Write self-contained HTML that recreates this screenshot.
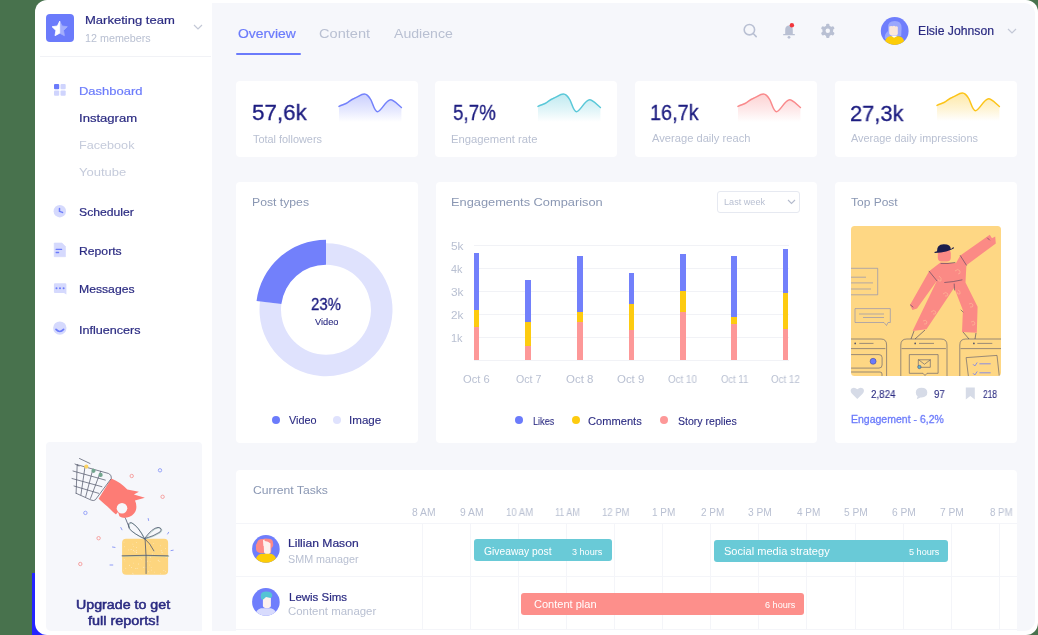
<!DOCTYPE html>
<html><head><meta charset="utf-8">
<style>
*{margin:0;padding:0;box-sizing:border-box}
html,body{width:1038px;height:635px;overflow:hidden;background:#48724d;font-family:"Liberation Sans",sans-serif}
.a{position:absolute;white-space:nowrap}
div[id^=t]{will-change:transform}
#strip{position:absolute;left:32px;top:573px;width:20px;height:62px;background:#2424ff}
#wrap{position:absolute;left:35px;top:0;width:1003px;height:635px;background:#fff;border-radius:12px;overflow:hidden}
#main{position:absolute;left:212px;top:3px;width:823px;height:627.5px;background:#f6f7fb;border-radius:0 11px 11px 0}
.card{position:absolute;background:#fff;border-radius:4px}
.t-dark{color:#2b2b82}
.t-light{color:#b4bbcd}
</style></head><body>
<div id="strip"></div>
<div id="wrap"></div>
<div id="main"></div>

<!-- SIDEBAR -->
<div class="a" style="left:46px;top:14px;width:28px;height:28px;background:#6b7bfb;border-radius:4px">
  <svg width="28" height="28" viewBox="0 0 28 28" style="position:absolute;left:0;top:0">
    <polygon points="13.70,7.20 16.05,11.96 21.31,12.73 17.50,16.44 18.40,21.67 13.70,19.20" fill="#a3adfd" stroke="#a3adfd" stroke-width="0.8" stroke-linejoin="round"/>
    <polygon points="13.70,19.20 9.00,21.67 9.90,16.44 6.09,12.73 11.35,11.96 13.70,7.20" fill="#fff" stroke="#fff" stroke-width="0.8" stroke-linejoin="round"/>
  </svg>
</div>
<svg class="a" style="left:193px;top:24px" width="10" height="6" viewBox="0 0 10 6"><path d="M1 1 L5 5 L9 1" stroke="#c3c8d6" stroke-width="1.2" fill="none"/></svg>
<div class="a" style="left:40px;top:56px;width:171px;height:1px;background:#f1f2f6"></div>


<!-- nav -->
<svg class="a" style="left:54px;top:84px" width="12" height="12" viewBox="0 0 12 12">
 <rect x="0" y="0" width="5.2" height="5.2" rx="1" fill="#6b7bfb"/>
 <rect x="6.5" y="0" width="5.2" height="5.2" rx="1" fill="#cfd4fd"/>
 <rect x="0" y="6.5" width="5.2" height="5.2" rx="1" fill="#cfd4fd"/>
 <rect x="6.5" y="6.5" width="5.2" height="5.2" rx="1" fill="#cfd4fd"/>
</svg>

<svg class="a" style="left:50px;top:201px" width="20" height="20" viewBox="0 0 20 20">
 <circle cx="9.8" cy="10.2" r="6.2" fill="#d5d9fd"/>
 <path d="M9.5 7.4 V10.4 L12.5 11.4" stroke="#6b7bfb" stroke-width="1.5" fill="none" stroke-linecap="round" stroke-linejoin="round"/>
</svg>

<svg class="a" style="left:50px;top:240px" width="20" height="20" viewBox="0 0 20 20">
 <path d="M4.2 3 H12 L15.5 6.5 V16.7 H4.2 Z" fill="#d5d9fd" stroke="#d5d9fd" stroke-width="0.6" stroke-linejoin="round"/>
 <path d="M6.2 9.4 H11.6 M6.2 12.5 H8.6" stroke="#6b7bfb" stroke-width="1.3" stroke-linecap="round"/>
</svg>

<svg class="a" style="left:50px;top:280px" width="20" height="20" viewBox="0 0 20 20">
 <path d="M5 3.2 H15 Q16.4 3.2 16.4 4.6 V14.5 L14 13.1 H5 Q3.9 13.1 3.9 12 V4.6 Q3.9 3.2 5 3.2 Z" fill="#d5d9fd"/>
 <circle cx="6.5" cy="8.2" r="1" fill="#6b7bfb"/><circle cx="10" cy="8.2" r="1" fill="#6b7bfb"/><circle cx="13.6" cy="8.2" r="1" fill="#6b7bfb"/>
</svg>

<svg class="a" style="left:50px;top:318px" width="20" height="20" viewBox="0 0 20 20">
 <circle cx="9.8" cy="10.1" r="6.7" fill="#d5d9fd"/>
 <path d="M6 11.4 Q9.8 15.6 13.6 11.4" stroke="#6b7bfb" stroke-width="1.7" fill="none" stroke-linecap="round"/>
</svg>

<!-- upgrade -->
<div class="a" style="left:46px;top:442px;width:155.5px;height:188.5px;background:#f6f7fb;border-radius:4px 4px 0 5px"></div>
<svg class="a" style="left:60px;top:450px" width="125" height="135" viewBox="0 0 125 135">
 <g fill="none" stroke-width="0.9">
  <circle cx="71.7" cy="26" r="1.7" stroke="#f59a98"/>
  <circle cx="100" cy="20.3" r="1.7" stroke="#8f9cf7"/>
  <circle cx="102.6" cy="46.8" r="1.7" stroke="#f59a98"/>
  <circle cx="25.4" cy="62.9" r="1.7" stroke="#8f9cf7"/>
  <circle cx="38.6" cy="88.2" r="1.7" stroke="#f59a98"/>
  <circle cx="20.3" cy="114" r="1.7" stroke="#f59a98"/>
 </g>
 <g stroke="#8f9cf7" stroke-width="1" stroke-linecap="round">
  <path d="M88.2 68.5 L88.6 70.5"/><path d="M60.8 77.5 L62 79.8"/><path d="M52.5 97 L55 97.4"/><path d="M50 115 L52.8 115"/><path d="M107.6 84 L108.6 82.3"/><path d="M111 100.6 L113.2 100.2"/>
 </g>
 <rect x="62.1" y="88.7" width="46" height="36" rx="4" fill="#fdd57e"/>
 <g><circle cx="73.5" cy="113.1" r="0.45" fill="#fff" opacity="0.58"/><circle cx="89.6" cy="115.0" r="0.45" fill="#fff" opacity="0.43"/><circle cx="63.6" cy="120.1" r="0.45" fill="#fff" opacity="0.53"/><circle cx="73.3" cy="123.9" r="0.45" fill="#fff" opacity="0.64"/><circle cx="99.8" cy="111.4" r="0.45" fill="#fff" opacity="0.72"/><circle cx="69.6" cy="115.2" r="0.45" fill="#fff" opacity="0.83"/><circle cx="86.0" cy="117.8" r="0.45" fill="#fff" opacity="0.74"/><circle cx="65.8" cy="118.2" r="0.45" fill="#fff" opacity="0.70"/><circle cx="76.3" cy="100.7" r="0.45" fill="#fff" opacity="0.83"/><circle cx="83.8" cy="117.3" r="0.45" fill="#fff" opacity="0.84"/><circle cx="94.4" cy="122.1" r="0.45" fill="#fff" opacity="0.60"/><circle cx="98.2" cy="110.7" r="0.45" fill="#fff" opacity="0.87"/><circle cx="101.7" cy="102.3" r="0.45" fill="#fff" opacity="0.47"/><circle cx="72.5" cy="123.2" r="0.45" fill="#fff" opacity="0.62"/><circle cx="90.6" cy="107.2" r="0.45" fill="#fff" opacity="0.65"/><circle cx="80.0" cy="108.4" r="0.45" fill="#fff" opacity="0.69"/><circle cx="88.7" cy="121.7" r="0.45" fill="#fff" opacity="0.74"/><circle cx="103.9" cy="120.6" r="0.45" fill="#fff" opacity="0.90"/><circle cx="92.5" cy="103.9" r="0.45" fill="#fff" opacity="0.83"/><circle cx="105.4" cy="121.7" r="0.45" fill="#fff" opacity="0.68"/><circle cx="94.4" cy="105.1" r="0.45" fill="#fff" opacity="0.82"/><circle cx="88.2" cy="106.8" r="0.45" fill="#fff" opacity="0.43"/><circle cx="100.6" cy="123.8" r="0.45" fill="#fff" opacity="0.44"/><circle cx="98.2" cy="109.9" r="0.45" fill="#fff" opacity="0.48"/><circle cx="75.9" cy="118.5" r="0.45" fill="#fff" opacity="0.84"/><circle cx="64.9" cy="110.9" r="0.45" fill="#fff" opacity="0.42"/><circle cx="94.6" cy="101.3" r="0.45" fill="#fff" opacity="0.84"/><circle cx="106.1" cy="107.2" r="0.45" fill="#fff" opacity="0.90"/><circle cx="76.6" cy="92.6" r="0.45" fill="#fff" opacity="0.70"/><circle cx="64.4" cy="96.7" r="0.45" fill="#fff" opacity="0.60"/><circle cx="89.9" cy="95.3" r="0.45" fill="#fff" opacity="0.42"/><circle cx="101.2" cy="100.7" r="0.45" fill="#fff" opacity="0.88"/><circle cx="102.5" cy="102.8" r="0.45" fill="#fff" opacity="0.63"/><circle cx="85.9" cy="111.9" r="0.45" fill="#fff" opacity="0.70"/><circle cx="87.6" cy="111.1" r="0.45" fill="#fff" opacity="0.87"/><circle cx="85.3" cy="104.7" r="0.45" fill="#fff" opacity="0.76"/><circle cx="73.5" cy="100.2" r="0.45" fill="#fff" opacity="0.89"/><circle cx="85.9" cy="108.6" r="0.45" fill="#fff" opacity="0.41"/><circle cx="81.3" cy="109.7" r="0.45" fill="#fff" opacity="0.41"/><circle cx="90.1" cy="111.5" r="0.45" fill="#fff" opacity="0.43"/><circle cx="90.6" cy="105.9" r="0.45" fill="#fff" opacity="0.74"/><circle cx="78.5" cy="114.0" r="0.45" fill="#fff" opacity="0.77"/><circle cx="64.0" cy="92.1" r="0.45" fill="#fff" opacity="0.74"/><circle cx="105.4" cy="98.5" r="0.45" fill="#fff" opacity="0.63"/><circle cx="89.1" cy="100.9" r="0.45" fill="#fff" opacity="0.58"/><circle cx="76.8" cy="102.6" r="0.45" fill="#fff" opacity="0.70"/><circle cx="76.2" cy="102.8" r="0.45" fill="#fff" opacity="0.79"/><circle cx="64.2" cy="109.4" r="0.45" fill="#fff" opacity="0.77"/><circle cx="76.6" cy="97.6" r="0.45" fill="#fff" opacity="0.80"/><circle cx="73.5" cy="96.4" r="0.45" fill="#fff" opacity="0.62"/><circle cx="93.7" cy="93.5" r="0.45" fill="#fff" opacity="0.56"/><circle cx="77.7" cy="118.3" r="0.45" fill="#fff" opacity="0.62"/><circle cx="100.6" cy="95.8" r="0.45" fill="#fff" opacity="0.57"/><circle cx="91.6" cy="120.1" r="0.45" fill="#fff" opacity="0.63"/><circle cx="72.9" cy="94.1" r="0.45" fill="#fff" opacity="0.66"/><circle cx="71.4" cy="117.4" r="0.45" fill="#fff" opacity="0.82"/><circle cx="71.1" cy="99.5" r="0.45" fill="#fff" opacity="0.80"/><circle cx="91.2" cy="117.4" r="0.45" fill="#fff" opacity="0.57"/><circle cx="68.7" cy="99.9" r="0.45" fill="#fff" opacity="0.80"/><circle cx="74.9" cy="101.8" r="0.45" fill="#fff" opacity="0.61"/></g>
 <g stroke="#9cc2b4" stroke-width="0.7" fill="none" stroke-linecap="round" transform="translate(0.7 0.5)">
  <path d="M62.1 105.8 Q85 104.8 108.1 105.8"/>
  <path d="M84.5 88.7 Q78 76 71.5 72.7 Q67 72 69.2 78.6 Q74 84 84.5 88.7"/>
  <path d="M84.5 88.7 Q92 78 98 77.4 Q103 78 100 82 Q94 86 84.5 88.7"/>
 </g>
 <g stroke="#4f5870" stroke-width="0.8" fill="none" stroke-linecap="round">
  <path d="M85.1 89 Q86.5 106 86.1 123.5"/>
  <path d="M62.1 105.8 Q85 104.8 108.1 105.8"/>
  <path d="M84.5 88.7 Q78 76 71.5 72.7 Q67 72 69.2 78.6 Q74 84 84.5 88.7"/>
  <path d="M84.5 88.7 Q92 78 98 77.4 Q103 78 100 82 Q94 86 84.5 88.7"/>
  <path d="M85 89 Q90 93 94 101"/>
  <path d="M61.5 61.5 Q66 68 69.2 77.4"/>
 </g>
 <path d="M51.3 28.4 C58 31 63 35 67.3 39.5 L78.9 41.7 L73.9 44.4 L84.9 47.7 L75 50.5 C77 55 77 60 74 63.5 C71 67 66 68.5 62 67.6 C58 66.5 54 63 50 59 C47 56 42 52 38.6 48.8 Z" fill="#fd7c75"/>
 <circle cx="62" cy="58.3" r="5.3" fill="#f6f7fb"/>
 <path d="M58 62 L53 68 L60 68 Z" fill="#f6f7fb"/>
 <g stroke="#555b6e" stroke-width="0.75" fill="none" stroke-linecap="round">
  <path d="M17.2 14.7 L48.6 23.5 Q52 25 51.3 28.4 L35.3 49.9 Q33.5 51.2 31 50 L16.1 43.3"/>
  <path d="M25 16.9 L20.9 45 M32.9 19.1 L25.7 46.8 M40.7 21.3 L30.5 48.4 M17.2 14.7 L16.1 43.3"/>
  <path d="M13 21 L45.3 30.1 M12 28.5 L41.9 36.7 M14 36 L38.6 43.3"/>
  <path d="M19.5 8.5 L30 13.5 M15 14 L19 16"/>
 </g>
 <circle cx="26.3" cy="16.6" r="2.1" fill="#fcd262"/><circle cx="33.5" cy="20.8" r="2.1" fill="#72a58e"/><circle cx="40.6" cy="24.9" r="2.1" fill="#72a58e"/>
</svg>


<!-- TOPBAR -->
<div class="a" style="left:235.5px;top:53px;width:65px;height:2px;background:#6b7bfb;border-radius:1px"></div>

<svg class="a" style="left:740px;top:20px" width="20" height="20" viewBox="0 0 20 20">
 <circle cx="9.4" cy="9.7" r="5.2" stroke="#b9c0d3" stroke-width="1.6" fill="none"/>
 <path d="M13.2 13.5 L16.2 16.6" stroke="#b9c0d3" stroke-width="1.6" stroke-linecap="round"/>
</svg>
<svg class="a" style="left:779px;top:20px" width="20" height="20" viewBox="0 0 20 20">
 <path d="M10 5.5 Q13.8 5.5 13.8 10 V14 H15.8 V15.3 H4.2 V14 H6.2 V10 Q6.2 5.5 10 5.5 Z" fill="#b9c0d3"/>
 <circle cx="10" cy="17.3" r="1.4" fill="#b9c0d3"/>
 <circle cx="12.9" cy="5.2" r="2.2" fill="#f2353b"/>
</svg>
<svg class="a" style="left:818px;top:21px" width="20" height="20" viewBox="0 0 20 20">
 <g fill="#b9c0d3">
  <circle cx="9.8" cy="9.8" r="5.4"/>
  <rect x="8.1" y="2.7" width="3.4" height="14.2" rx="1.2"/>
  <rect x="8.1" y="2.7" width="3.4" height="14.2" rx="1.2" transform="rotate(60 9.8 9.8)"/>
  <rect x="8.1" y="2.7" width="3.4" height="14.2" rx="1.2" transform="rotate(120 9.8 9.8)"/>
 </g>
 <circle cx="9.8" cy="9.8" r="2.2" fill="#f6f7fb"/>
</svg>

<svg class="a" style="left:880px;top:16px" width="30" height="30" viewBox="0 0 30 30">
 <defs><clipPath id="av1"><circle cx="14.7" cy="15" r="13.9"/></clipPath></defs>
 <circle cx="14.7" cy="15" r="13.9" fill="#6f7efc"/>
 <g clip-path="url(#av1)">
  <path d="M8 12 Q7.5 5 14.8 5 Q21.8 5 21.6 12 L21.2 20 H15 L9.5 22 L5 23 Q4 18 8 15 Z" fill="#9ba7fd"/>
  <path d="M9.2 10.5 Q11 9.5 12.5 10.3 Q14 9 15.5 10.5 Q17 10 17.8 11 V17.5 Q17.8 19.6 14.5 19.6 Q9.2 19.6 9.2 17 Z" fill="#fbe7dc"/>
  <path d="M4 31 Q4.5 21 10 20.2 L19 20.2 Q25 21 25 31 Z" fill="#fdcd08"/>
  <path d="M11.2 19.8 L14 21.8 L17.8 19.8 Z" fill="#ffffff"/>
 </g>
</svg>
<svg class="a" style="left:1007px;top:28px" width="10" height="6" viewBox="0 0 10 6"><path d="M1 1 L5 5 L9 1" stroke="#c3c8d6" stroke-width="1.2" fill="none"/></svg>

<!-- STAT CARDS -->
<div class="card" style="left:235.5px;top:80.5px;width:182px;height:76px"></div>
<div class="card" style="left:435px;top:80.5px;width:182px;height:76px"></div>
<div class="card" style="left:635px;top:80.5px;width:182px;height:76px"></div>
<div class="card" style="left:834.5px;top:80.5px;width:182px;height:76px"></div>



<svg class="a" style="left:337.7px;top:92.3px" width="66" height="30" viewBox="-1 -2 66 30">
 <defs><linearGradient id="g1" x1="0" y1="0" x2="0" y2="1"><stop offset="0" stop-color="#7482fb" stop-opacity="0.38"/><stop offset="0.6" stop-color="#7482fb" stop-opacity="0.17"/><stop offset="1" stop-color="#7482fb" stop-opacity="0"/></linearGradient></defs>
 <path d="M0,12.4 C3,11 5,10.5 7,9.5 C10,8 12,5.5 15,4.5 C19,3 22,0 25.4,0 C28,0 30,2.5 32,6 C34,10 35.5,17.8 38.5,17.8 C42,17.8 47,5.8 51.6,5.8 C55,5.8 59,11 62.4,13.5 V28 H0 Z" fill="url(#g1)"/>
 <path d="M0,12.4 C3,11 5,10.5 7,9.5 C10,8 12,5.5 15,4.5 C19,3 22,0 25.4,0 C28,0 30,2.5 32,6 C34,10 35.5,17.8 38.5,17.8 C42,17.8 47,5.8 51.6,5.8 C55,5.8 59,11 62.4,13.5" stroke="#7482fb" stroke-width="1.5" fill="none" stroke-linecap="round"/>
</svg>
<svg class="a" style="left:536.9px;top:92.3px" width="66" height="30" viewBox="-1 -2 66 30">
 <defs><linearGradient id="g2" x1="0" y1="0" x2="0" y2="1"><stop offset="0" stop-color="#5ac8d8" stop-opacity="0.38"/><stop offset="0.6" stop-color="#5ac8d8" stop-opacity="0.17"/><stop offset="1" stop-color="#5ac8d8" stop-opacity="0"/></linearGradient></defs>
 <path d="M0,12.4 C3,11 5,10.5 7,9.5 C10,8 12,5.5 15,4.5 C19,3 22,0 25.4,0 C28,0 30,2.5 32,6 C34,10 35.5,17.8 38.5,17.8 C42,17.8 47,5.8 51.6,5.8 C55,5.8 59,11 62.4,13.5 V28 H0 Z" fill="url(#g2)"/>
 <path d="M0,12.4 C3,11 5,10.5 7,9.5 C10,8 12,5.5 15,4.5 C19,3 22,0 25.4,0 C28,0 30,2.5 32,6 C34,10 35.5,17.8 38.5,17.8 C42,17.8 47,5.8 51.6,5.8 C55,5.8 59,11 62.4,13.5" stroke="#5ac8d8" stroke-width="1.5" fill="none" stroke-linecap="round"/>
</svg>
<svg class="a" style="left:736.5px;top:92.3px" width="66" height="30" viewBox="-1 -2 66 30">
 <defs><linearGradient id="g3" x1="0" y1="0" x2="0" y2="1"><stop offset="0" stop-color="#f98a8c" stop-opacity="0.38"/><stop offset="0.6" stop-color="#f98a8c" stop-opacity="0.17"/><stop offset="1" stop-color="#f98a8c" stop-opacity="0"/></linearGradient></defs>
 <path d="M0,12.4 C3,11 5,10.5 7,9.5 C10,8 12,5.5 15,4.5 C19,3 22,0 25.4,0 C28,0 30,2.5 32,6 C34,10 35.5,17.8 38.5,17.8 C42,17.8 47,5.8 51.6,5.8 C55,5.8 59,11 62.4,13.5 V28 H0 Z" fill="url(#g3)"/>
 <path d="M0,12.4 C3,11 5,10.5 7,9.5 C10,8 12,5.5 15,4.5 C19,3 22,0 25.4,0 C28,0 30,2.5 32,6 C34,10 35.5,17.8 38.5,17.8 C42,17.8 47,5.8 51.6,5.8 C55,5.8 59,11 62.4,13.5" stroke="#f98a8c" stroke-width="1.5" fill="none" stroke-linecap="round"/>
</svg>
<svg class="a" style="left:935.8px;top:90.8px" width="66" height="30" viewBox="-1 -2 66 30">
 <defs><linearGradient id="g4" x1="0" y1="0" x2="0" y2="1"><stop offset="0" stop-color="#fcc419" stop-opacity="0.38"/><stop offset="0.6" stop-color="#fcc419" stop-opacity="0.17"/><stop offset="1" stop-color="#fcc419" stop-opacity="0"/></linearGradient></defs>
 <path d="M0,12.4 C3,11 5,10.5 7,9.5 C10,8 12,5.5 15,4.5 C19,3 22,0 25.4,0 C28,0 30,2.5 32,6 C34,10 35.5,17.8 38.5,17.8 C42,17.8 47,5.8 51.6,5.8 C55,5.8 59,11 62.4,13.5 V28 H0 Z" fill="url(#g4)"/>
 <path d="M0,12.4 C3,11 5,10.5 7,9.5 C10,8 12,5.5 15,4.5 C19,3 22,0 25.4,0 C28,0 30,2.5 32,6 C34,10 35.5,17.8 38.5,17.8 C42,17.8 47,5.8 51.6,5.8 C55,5.8 59,11 62.4,13.5" stroke="#fcc419" stroke-width="1.5" fill="none" stroke-linecap="round"/>
</svg>


<!-- MIDDLE ROW -->
<div class="card" style="left:235.5px;top:182.3px;width:182px;height:260.5px"></div>
<div class="card" style="left:435.5px;top:182.3px;width:381.5px;height:260.5px"></div>
<div class="card" style="left:834.5px;top:182.3px;width:182px;height:260.5px"></div>

<svg class="a" style="left:0;top:0" width="1038" height="635" viewBox="0 0 1038 635">
 <path d="M326.00,243.20 A66.5,66.5 0 1 1 260.02,301.37 L281.35,304.06 A45,45 0 1 0 326.00,264.70 Z" fill="#dfe2fd"/>
 <path d="M256.55,300.93 A70,70 0 0 1 326.00,239.70 L326.00,264.70 A45,45 0 0 0 281.35,304.06 Z" fill="#7280fb"/>
</svg>
<div class="a" style="left:272px;top:416px;width:8px;height:8px;border-radius:50%;background:#6b7bfb"></div>
<div class="a" style="left:333px;top:416px;width:8px;height:8px;border-radius:50%;background:#dfe2fd"></div>

<div class="a" style="left:717.3px;top:190.6px;width:83px;height:22px;border:1px solid #e6e9f1;border-radius:3px"></div>
<svg class="a" style="left:787px;top:199px" width="9" height="6" viewBox="0 0 9 6"><path d="M1 1 L4.5 4.5 L8 1" stroke="#b4bbcd" stroke-width="1.1" fill="none"/></svg>
<div class="a" style="left:473.7px;top:245px;width:315.3px;height:1px;background:#f1f2f6"></div><div class="a" style="left:473.7px;top:268px;width:315.3px;height:1px;background:#f1f2f6"></div><div class="a" style="left:473.7px;top:291px;width:315.3px;height:1px;background:#f1f2f6"></div><div class="a" style="left:473.7px;top:314px;width:315.3px;height:1px;background:#f1f2f6"></div><div class="a" style="left:473.7px;top:337px;width:315.3px;height:1px;background:#f1f2f6"></div><div class="a" style="left:473.7px;top:360px;width:315.3px;height:1px;background:#f1f2f6"></div><div class="a" style="left:473.7px;top:253px;width:5.8px;height:57.19999999999999px;background:#7280fb"></div><div class="a" style="left:473.7px;top:310.2px;width:5.8px;height:16.80000000000001px;background:#fdcb10"></div><div class="a" style="left:473.7px;top:327px;width:5.8px;height:33px;background:#fd9898"></div><div class="a" style="left:525.3px;top:279.8px;width:5.8px;height:42.5px;background:#7280fb"></div><div class="a" style="left:525.3px;top:322.3px;width:5.8px;height:24.099999999999966px;background:#fdcb10"></div><div class="a" style="left:525.3px;top:346.4px;width:5.8px;height:13.600000000000023px;background:#fd9898"></div><div class="a" style="left:577px;top:255.6px;width:5.8px;height:56.00000000000003px;background:#7280fb"></div><div class="a" style="left:577px;top:311.6px;width:5.8px;height:10.299999999999955px;background:#fdcb10"></div><div class="a" style="left:577px;top:321.9px;width:5.8px;height:38.10000000000002px;background:#fd9898"></div><div class="a" style="left:628.5px;top:273.2px;width:5.8px;height:30.80000000000001px;background:#7280fb"></div><div class="a" style="left:628.5px;top:304px;width:5.8px;height:26px;background:#fdcb10"></div><div class="a" style="left:628.5px;top:330px;width:5.8px;height:30px;background:#fd9898"></div><div class="a" style="left:679.8px;top:254.2px;width:5.8px;height:36.60000000000002px;background:#7280fb"></div><div class="a" style="left:679.8px;top:290.8px;width:5.8px;height:20.80000000000001px;background:#fdcb10"></div><div class="a" style="left:679.8px;top:311.6px;width:5.8px;height:48.39999999999998px;background:#fd9898"></div><div class="a" style="left:731px;top:256.4px;width:5.8px;height:60.700000000000045px;background:#7280fb"></div><div class="a" style="left:731px;top:317.1px;width:5.8px;height:6.899999999999977px;background:#fdcb10"></div><div class="a" style="left:731px;top:324px;width:5.8px;height:36px;background:#fd9898"></div><div class="a" style="left:782.7px;top:248.7px;width:5.8px;height:44.60000000000002px;background:#7280fb"></div><div class="a" style="left:782.7px;top:293.3px;width:5.8px;height:35.599999999999966px;background:#fdcb10"></div><div class="a" style="left:782.7px;top:328.9px;width:5.8px;height:31.100000000000023px;background:#fd9898"></div><div class="a" style="left:515px;top:416.4px;width:8px;height:8px;border-radius:50%;background:#6b7bfb"></div>
<div class="a" style="left:571.5px;top:416.4px;width:8px;height:8px;border-radius:50%;background:#fdcb10"></div>
<div class="a" style="left:660px;top:416.4px;width:8px;height:8px;border-radius:50%;background:#fd9898"></div>


<!-- TOP POST -->
<svg class="a" style="left:850.5px;top:225.5px" width="150" height="150" viewBox="0 0 150 150">
 <defs><clipPath id="tpc"><rect x="0" y="0" width="150" height="150" rx="3.5"/></clipPath></defs>
 <g clip-path="url(#tpc)">
 <rect x="0" y="0" width="150" height="150" fill="#fed784"/>
 <g stroke="#7f86b8" stroke-width="0.6" fill="none">
  <path d="M-2 42.3 H26.7 V68.8 H-2"/>
  <path d="M0 51.2 H15 M0 56.9 H22 M0 63 H20"/>
  <path d="M4 82.6 H39.3 V96.5 H37 L35.5 99.5 L33 96.5 H4 Z"/>
  <path d="M8 88 H33 M12 91.5 H33"/>
 </g>
 <g stroke="#55566c" stroke-width="0.6" fill="none" stroke-linecap="round">
  <path d="M-1 113 H30 Q35.6 113 35.6 119 V152"/>
  <path d="M0 122.6 H34 M8.7 117.4 H22.1"/>
  <path d="M0.5 128.6 H28 Q31.1 128.6 31.1 131.6 V139 Q31.1 142.1 28 142.1 H0.5"/>
  <path d="M0.5 146 H29 Q31 146 31 148 V152"/>
  <path d="M49.8 152 V119 Q49.8 113 55.8 113 H90 Q96 113 96 119 V152"/>
  <path d="M51 122.6 H94.5 M68.4 117.4 H82.6"/>
  <path d="M58.7 128.6 H87.1 V147.3 H76 L74 149.5 L72 147.3 H58.7 Z"/>
  <path d="M67.7 133.8 H79.3 V141.3 H67.7 Z M67.7 133.8 L73.5 138.3 L79.3 133.8"/>
  <path d="M108.8 152 V119 Q108.8 113 114.8 113 H152"/>
  <path d="M110 122.6 H150 M126.7 117.4 H140.9"/>
  <path d="M115.5 131.6 L146 129.4 L148.5 152 L118 152 Z"/>
 </g>
 <circle cx="4.2" cy="117.4" r="0.9" fill="#55566c"/><circle cx="64.2" cy="117.4" r="0.9" fill="#55566c"/><circle cx="122.9" cy="117.4" r="0.9" fill="#55566c"/>
 <circle cx="22.1" cy="135.3" r="3" fill="#6b7bfb" stroke="#3b3f8a" stroke-width="0.5"/>
 <circle cx="68.4" cy="141" r="1.7" fill="#62b5c4" stroke="#3b3f8a" stroke-width="0.5"/>
 <g stroke="#6b7bfb" stroke-width="0.8" fill="none" stroke-linecap="round"><path d="M122.3 138.5 L123.8 140 L126 136.8 M128.8 137.8 H139.3 M122.3 147.5 L123.8 149 L126 145.8 M128.8 146.8 H139.3"/></g>
 <!-- legs support lines -->
 <g stroke="#3a3a5c" stroke-width="0.6" fill="none"><path d="M63 105 L60 113 M74 104 L64 113 M112 106 L118 113 M125 107 L124 113"/></g>
 <!-- body -->
 <path d="M89.4 36.6 L105 37 L109.3 29.6 L138.8 8.8 L141 12.2 L144.2 10.4 L144.8 17.5 L115.4 39.2 L114.5 56.5 L126.6 80.8 L125.8 106.8 L111 105.9 L111.9 84.2 L103.2 61.7 L75.5 103.3 L61.6 105 L85.9 54.8 L66 82.5 L61.5 84 L59 79 L78.1 45.2 Z" fill="#fb8a85"/>
 <rect x="86.8" y="23.6" width="13" height="12" rx="4" fill="#fb8a85"/>
 <g stroke="#3a3a5c" stroke-width="0.55" fill="none" stroke-linecap="round">
  <path d="M78.1 45.2 L85.9 54.8 M109.3 29.6 L115.4 39.2 M93.7 56.5 Q102 56 111 53.9 M90 37.5 Q97 38 104 36.5 M103.2 58 L103.5 64 M59.5 79 L62 81 M136.5 12 L138.5 14 M110 84 L112 86"/>
 </g>
 <g stroke="#fdc39c" stroke-width="0.55" fill="none">
  <path d="M104 45 q3 -3 5 0 q1 3 -2 3 M88 50 q3 2 2 5 q-3 1 -3 -2 M92 68 q3 -3 5 0 q0 3 -3 2 M80 86 q3 -3 5 0 q0 3 -3 2 M107 64 q3 1 2 4 q-3 1 -3 -2 M118 78 q3 -2 4 1 q0 3 -3 2 M120 96 q3 -2 4 1 q0 3 -3 2 M72 95 q3 -2 4 1 q0 3 -3 2"/>
 </g>
 <path d="M86 25.3 Q85.6 18.5 92.5 18.2 Q99.8 18 99.8 23.2 L102.4 21 L103 22.3 Q97 26.5 83.8 27 L83.3 26 Z" fill="#1b1d4d"/>
 </g>
</svg>
<svg class="a" style="left:850px;top:387px" width="15" height="13" viewBox="0 0 15 13">
 <path d="M7.3 12 L2 6.8 Q-0.5 4 1.6 1.6 Q4.3 -0.6 7.3 2.3 Q10.3 -0.6 13 1.6 Q15.1 4 12.6 6.8 Z" fill="#d6dbe7"/>
</svg>
<svg class="a" style="left:915px;top:387px" width="14" height="13" viewBox="0 0 14 13">
 <path d="M6.5 0.8 Q12.3 0.8 12.3 5.6 Q12.3 10.4 6.5 10.4 L5.5 10.4 L1.8 12.2 L2.6 9.3 Q0.8 8 0.8 5.6 Q0.8 0.8 6.5 0.8 Z" fill="#d6dbe7"/>
</svg>
<svg class="a" style="left:965px;top:387px" width="11" height="13" viewBox="0 0 11 13">
 <path d="M0.8 0.5 H9.8 V12.5 L5.3 9 L0.8 12.5 Z" fill="#d6dbe7"/>
</svg>

<!-- TASKS -->
<div class="card" style="left:235.5px;top:469.5px;width:781px;height:170px"></div>
<div class="a" style="left:235.5px;top:523px;width:781px;height:1px;background:#f4f5f9"></div>
<div class="a" style="left:235.5px;top:576px;width:781px;height:1px;background:#f4f5f9"></div>
<div class="a" style="left:235.5px;top:629px;width:781px;height:1px;background:#f4f5f9"></div>

<div class="a" style="left:422px;top:524px;width:1px;height:106px;background:#f4f5f9"></div><div class="a" style="left:470px;top:524px;width:1px;height:106px;background:#f4f5f9"></div><div class="a" style="left:518px;top:524px;width:1px;height:106px;background:#f4f5f9"></div><div class="a" style="left:566px;top:524px;width:1px;height:106px;background:#f4f5f9"></div><div class="a" style="left:614px;top:524px;width:1px;height:106px;background:#f4f5f9"></div><div class="a" style="left:662px;top:524px;width:1px;height:106px;background:#f4f5f9"></div><div class="a" style="left:710px;top:524px;width:1px;height:106px;background:#f4f5f9"></div><div class="a" style="left:758px;top:524px;width:1px;height:106px;background:#f4f5f9"></div><div class="a" style="left:806px;top:524px;width:1px;height:106px;background:#f4f5f9"></div><div class="a" style="left:855px;top:524px;width:1px;height:106px;background:#f4f5f9"></div><div class="a" style="left:903px;top:524px;width:1px;height:106px;background:#f4f5f9"></div><div class="a" style="left:951px;top:524px;width:1px;height:106px;background:#f4f5f9"></div><div class="a" style="left:999px;top:524px;width:1px;height:106px;background:#f4f5f9"></div>
<svg class="a" style="left:252.2px;top:535px" width="28" height="28" viewBox="0 0 28 28">
 <defs><clipPath id="av2"><circle cx="13.9" cy="13.9" r="13.8"/></clipPath></defs>
 <circle cx="13.9" cy="13.9" r="13.8" fill="#6f7efc"/>
 <g clip-path="url(#av2)">
  <path d="M5 8 Q6 3.5 11 4 Q13 3 16 3.8 Q21 3.5 21 8 Q22 11 19.5 13 L19 18 H8 Q3.5 17 4 13 Q3 10 5 8 Z" fill="#fd8a88"/>
  <path d="M11.5 6 Q16 5.5 18.5 8.5 V16.5 Q18.5 19.3 15.5 19.3 Q12 19.3 12 16.5 Z" fill="#fdf1ee"/>
  <path d="M11 5 L12.5 4.5 L13 11 L11.5 11 Z" fill="#fdf1ee"/>
  <path d="M3 29 Q3.5 20 9 18.8 L19 18.8 Q24.5 20 25 29 Z" fill="#fdcd08"/>
 </g>
</svg>
<svg class="a" style="left:252.2px;top:587.9px" width="28" height="28" viewBox="0 0 28 28">
 <defs><clipPath id="av3"><circle cx="13.9" cy="13.9" r="13.8"/></clipPath></defs>
 <circle cx="13.9" cy="13.9" r="13.8" fill="#6f7efc"/>
 <g clip-path="url(#av3)">
  <path d="M10.9 8 H18.9 V17.5 Q18.9 20.3 15 20.3 Q10.9 20.3 10.9 17.5 Z" fill="#fdf1ee"/>
  <path d="M8.7 8.5 Q8.5 3.8 13.5 3.6 Q19.5 3.2 20.3 7 Q20.5 9.5 18.5 10 L14 9 Q12 11 10.5 12 Q8.7 11 8.7 8.5 Z" fill="#55c4d4"/>
  <path d="M3 29 Q3.5 21.5 9 20.3 L19 20.3 Q24.5 21.5 25 29 Z" fill="#d8dbfd"/>
 </g>
</svg>

<div class="a" style="left:473.6px;top:539.4px;width:138px;height:22px;background:#69cad7;border-radius:3px"></div>
<div class="a" style="left:713.8px;top:539.6px;width:234.4px;height:22px;background:#69cad7;border-radius:3px"></div>
<div class="a" style="left:521.3px;top:592.6px;width:282.7px;height:22px;background:#fd8f8b;border-radius:3px"></div>


<div class="a" id="t0" style="left:84.56px;top:14.18px;font-size:11.5px;color:#2b2b82;transform:scaleX(1.1325);transform-origin:0 0;-webkit-text-stroke:0.2px #2b2b82">Marketing team</div>
<div class="a" id="t1" style="left:84.56px;top:32.93px;font-size:10px;color:#b9c0d2;transform:scaleX(1.0751);transform-origin:0 0">12 memebers</div>
<div class="a" id="t2" style="left:78.84px;top:84.90px;font-size:11.5px;color:#6b7bfb;transform:scaleX(1.1277);transform-origin:0 0;-webkit-text-stroke:0.2px #6b7bfb">Dashboard</div>
<div class="a" id="t3" style="left:79.20px;top:112.00px;font-size:11px;color:#2b2b82;transform:scaleX(1.1876);transform-origin:0 0;-webkit-text-stroke:0.2px #2b2b82">Instagram</div>
<div class="a" id="t4" style="left:78.84px;top:139.00px;font-size:11px;color:#c5cbdb;transform:scaleX(1.1479);transform-origin:0 0">Facebook</div>
<div class="a" id="t5" style="left:78.84px;top:165.74px;font-size:11px;color:#c5cbdb;transform:scaleX(1.1830);transform-origin:0 0">Youtube</div>
<div class="a" id="t6" style="left:79.46px;top:206.00px;font-size:11px;color:#2b2b82;transform:scaleX(1.1082);transform-origin:0 0;-webkit-text-stroke:0.2px #2b2b82">Scheduler</div>
<div class="a" id="t7" style="left:78.66px;top:245.00px;font-size:11px;color:#2b2b82;transform:scaleX(1.1078);transform-origin:0 0;-webkit-text-stroke:0.2px #2b2b82">Reports</div>
<div class="a" id="t8" style="left:78.66px;top:283.46px;font-size:11px;color:#2b2b82;transform:scaleX(1.1082);transform-origin:0 0;-webkit-text-stroke:0.2px #2b2b82">Messages</div>
<div class="a" id="t9" style="left:78.66px;top:324.00px;font-size:11px;color:#2b2b82;transform:scaleX(1.1448);transform-origin:0 0;-webkit-text-stroke:0.2px #2b2b82">Influencers</div>
<div class="a" id="t10" style="left:76.28px;top:597.59px;font-size:12px;color:#2b2b82;transform:scaleX(1.1855);transform-origin:0 0;-webkit-text-stroke:0.5px #2b2b82">Upgrade to get</div>
<div class="a" id="t11" style="left:88.00px;top:613.95px;font-size:12px;color:#2b2b82;transform:scaleX(1.2028);transform-origin:0 0;-webkit-text-stroke:0.5px #2b2b82">full reports!</div>
<div class="a" id="t12" style="left:238.28px;top:26.83px;font-size:12.7px;color:#6b7bfb;transform:scaleX(1.0945);transform-origin:0 0;-webkit-text-stroke:0.2px #6b7bfb">Overview</div>
<div class="a" id="t13" style="left:319.12px;top:26.83px;font-size:12.7px;color:#b9c0d2;transform:scaleX(1.1490);transform-origin:0 0">Content</div>
<div class="a" id="t14" style="left:394.18px;top:26.83px;font-size:12.7px;color:#b9c0d2;transform:scaleX(1.1110);transform-origin:0 0">Audience</div>
<div class="a" id="t15" style="left:918.48px;top:24.33px;font-size:12px;color:#2b2b82;transform:scaleX(1.0176);transform-origin:0 0;-webkit-text-stroke:0.2px #2b2b82">Elsie Johnson</div>
<div class="a" id="t16" style="left:251.94px;top:100.16px;font-size:22.5px;color:#1c1c80;transform:scaleX(0.9953);transform-origin:0 0;-webkit-text-stroke:0.3px #1c1c80">57,6k</div>
<div class="a" id="t17" style="left:453.36px;top:99.54px;font-size:22.5px;color:#1c1c80;transform:scaleX(0.8360);transform-origin:0 0;-webkit-text-stroke:0.3px #1c1c80">5,7%</div>
<div class="a" id="t18" style="left:650.20px;top:100.16px;font-size:22.5px;color:#1c1c80;transform:scaleX(0.8835);transform-origin:0 0;-webkit-text-stroke:0.3px #1c1c80">16,7k</div>
<div class="a" id="t19" style="left:849.94px;top:100.70px;font-size:22.5px;color:#1c1c80;transform:scaleX(0.9721);transform-origin:0 0;-webkit-text-stroke:0.3px #1c1c80">27,3k</div>
<div class="a" id="t20" style="left:253.00px;top:132.92px;font-size:10.5px;color:#b9c0d2;transform:scaleX(1.0369);transform-origin:0 0">Total followers</div>
<div class="a" id="t21" style="left:451.02px;top:132.92px;font-size:10.5px;color:#b9c0d2;transform:scaleX(1.0732);transform-origin:0 0">Engagement rate</div>
<div class="a" id="t22" style="left:651.54px;top:132.48px;font-size:10.5px;color:#b9c0d2;transform:scaleX(1.0626);transform-origin:0 0">Average daily reach</div>
<div class="a" id="t23" style="left:851.00px;top:132.30px;font-size:10.5px;color:#b9c0d2;transform:scaleX(1.0369);transform-origin:0 0">Average daily impressions</div>
<div class="a" id="t24" style="left:252.02px;top:196.46px;font-size:11px;color:#8a97b3;transform:scaleX(1.1100);transform-origin:0 0">Post types</div>
<div class="a" id="t25" style="left:450.66px;top:196.10px;font-size:11px;color:#8a97b3;transform:scaleX(1.1647);transform-origin:0 0">Engagements Comparison</div>
<div class="a" id="t26" style="left:724.20px;top:197.37px;font-size:8.7px;color:#b9c0d2;transform:scaleX(1.0502);transform-origin:0 0">Last week</div>
<div class="a" id="t27" style="left:450.66px;top:240.64px;font-size:10px;color:#b9c0d2;transform:scaleX(1.1883);transform-origin:0 0">5k</div>
<div class="a" id="t28" style="left:451.46px;top:263.64px;font-size:10px;color:#b9c0d2;transform:scaleX(1.0796);transform-origin:0 0">4k</div>
<div class="a" id="t29" style="left:450.66px;top:286.64px;font-size:10px;color:#b9c0d2;transform:scaleX(1.1883);transform-origin:0 0">3k</div>
<div class="a" id="t30" style="left:450.66px;top:309.64px;font-size:10px;color:#b9c0d2;transform:scaleX(1.1764);transform-origin:0 0">2k</div>
<div class="a" id="t31" style="left:450.66px;top:332.64px;font-size:10px;color:#b9c0d2;transform:scaleX(1.0895);transform-origin:0 0">1k</div>
<div class="a" id="t32" style="left:462.84px;top:373.82px;font-size:10px;color:#b9c0d2;transform:scaleX(1.1154);transform-origin:0 0">Oct 6</div>
<div class="a" id="t33" style="left:516.36px;top:373.82px;font-size:10px;color:#b9c0d2;transform:scaleX(1.0607);transform-origin:0 0">Oct 7</div>
<div class="a" id="t34" style="left:566.20px;top:373.82px;font-size:10px;color:#b9c0d2;transform:scaleX(1.1474);transform-origin:0 0">Oct 8</div>
<div class="a" id="t35" style="left:616.94px;top:373.82px;font-size:10px;color:#b9c0d2;transform:scaleX(1.1435);transform-origin:0 0">Oct 9</div>
<div class="a" id="t36" style="left:668.18px;top:373.82px;font-size:10px;color:#b9c0d2;transform:scaleX(0.9787);transform-origin:0 0">Oct 10</div>
<div class="a" id="t37" style="left:721.36px;top:373.82px;font-size:10px;color:#b9c0d2;transform:scaleX(0.9468);transform-origin:0 0">Oct 11</div>
<div class="a" id="t38" style="left:771.46px;top:373.82px;font-size:10px;color:#b9c0d2;transform:scaleX(0.9762);transform-origin:0 0">Oct 12</div>
<div class="a" id="t39" style="left:310.64px;top:295.39px;font-size:17px;color:#1c1c80;transform:scaleX(0.8769);transform-origin:0 0;-webkit-text-stroke:0.3px #1c1c80">23%</div>
<div class="a" id="t40" style="left:314.54px;top:316.95px;font-size:9px;color:#2b2b82;transform:scaleX(1.0258);transform-origin:0 0;-webkit-text-stroke:0.1px #2b2b82">Video</div>
<div class="a" id="t41" style="left:288.64px;top:415.29px;font-size:10px;color:#2b2b82;transform:scaleX(1.0844);transform-origin:0 0;-webkit-text-stroke:0.1px #2b2b82">Video</div>
<div class="a" id="t42" style="left:349.02px;top:415.29px;font-size:10px;color:#2b2b82;transform:scaleX(1.1616);transform-origin:0 0;-webkit-text-stroke:0.1px #2b2b82">Image</div>
<div class="a" id="t43" style="left:532.54px;top:415.82px;font-size:10px;color:#2b2b82;transform:scaleX(0.9122);transform-origin:0 0;-webkit-text-stroke:0.1px #2b2b82">Likes</div>
<div class="a" id="t44" style="left:588.46px;top:415.82px;font-size:10px;color:#2b2b82;transform:scaleX(1.1107);transform-origin:0 0;-webkit-text-stroke:0.1px #2b2b82">Comments</div>
<div class="a" id="t45" style="left:677.54px;top:415.82px;font-size:10px;color:#2b2b82;transform:scaleX(1.0564);transform-origin:0 0;-webkit-text-stroke:0.1px #2b2b82">Story replies</div>
<div class="a" id="t46" style="left:851.00px;top:196.28px;font-size:11px;color:#8a97b3;transform:scaleX(1.0904);transform-origin:0 0">Top Post</div>
<div class="a" id="t47" style="left:870.54px;top:389.00px;font-size:10px;color:#2b2b82;transform:scaleX(0.9765);transform-origin:0 0;-webkit-text-stroke:0.1px #2b2b82">2,824</div>
<div class="a" id="t48" style="left:934.10px;top:389.00px;font-size:10px;color:#2b2b82;transform:scaleX(0.9701);transform-origin:0 0;-webkit-text-stroke:0.1px #2b2b82">97</div>
<div class="a" id="t49" style="left:983.00px;top:389.00px;font-size:10px;color:#2b2b82;transform:scaleX(0.8412);transform-origin:0 0;-webkit-text-stroke:0.1px #2b2b82">218</div>
<div class="a" id="t50" style="left:850.64px;top:413.30px;font-size:10.5px;color:#6b7bfb;transform:scaleX(0.9988);transform-origin:0 0;-webkit-text-stroke:0.3px #6b7bfb">Engagement - 6,2%</div>
<div class="a" id="t51" style="left:252.64px;top:483.90px;font-size:11.5px;color:#8a97b3;transform:scaleX(1.0593);transform-origin:0 0">Current Tasks</div>
<div class="a" id="t52" style="left:411.87px;top:507.38px;font-size:10px;color:#b9c0d2;transform:scaleX(1.0307);transform-origin:0 0">8 AM</div>
<div class="a" id="t53" style="left:460.05px;top:507.38px;font-size:10px;color:#b9c0d2;transform:scaleX(1.0307);transform-origin:0 0">9 AM</div>
<div class="a" id="t54" style="left:505.84px;top:507.38px;font-size:10px;color:#b9c0d2;transform:scaleX(0.9613);transform-origin:0 0">10 AM</div>
<div class="a" id="t55" style="left:555.25px;top:507.38px;font-size:10px;color:#b9c0d2;transform:scaleX(0.9004);transform-origin:0 0">11 AM</div>
<div class="a" id="t56" style="left:602.07px;top:507.38px;font-size:10px;color:#b9c0d2;transform:scaleX(0.9517);transform-origin:0 0">12 PM</div>
<div class="a" id="t57" style="left:652.25px;top:507.38px;font-size:10px;color:#b9c0d2;transform:scaleX(0.9822);transform-origin:0 0">1 PM</div>
<div class="a" id="t58" style="left:701.13px;top:507.38px;font-size:10px;color:#b9c0d2;transform:scaleX(0.9829);transform-origin:0 0">2 PM</div>
<div class="a" id="t59" style="left:747.71px;top:507.38px;font-size:10px;color:#b9c0d2;transform:scaleX(1.0230);transform-origin:0 0">3 PM</div>
<div class="a" id="t60" style="left:797.49px;top:507.38px;font-size:10px;color:#b9c0d2;transform:scaleX(0.9829);transform-origin:0 0">4 PM</div>
<div class="a" id="t61" style="left:844.07px;top:507.38px;font-size:10px;color:#b9c0d2;transform:scaleX(1.0230);transform-origin:0 0">5 PM</div>
<div class="a" id="t62" style="left:892.25px;top:507.38px;font-size:10px;color:#b9c0d2;transform:scaleX(1.0230);transform-origin:0 0">6 PM</div>
<div class="a" id="t63" style="left:940.43px;top:507.38px;font-size:10px;color:#b9c0d2;transform:scaleX(1.0230);transform-origin:0 0">7 PM</div>
<div class="a" id="t64" style="left:989.77px;top:507.38px;font-size:10px;color:#b9c0d2;transform:scaleX(0.9676);transform-origin:0 0">8 PM</div>
<div class="a" id="t65" style="left:288.20px;top:537.28px;font-size:11px;color:#2b2b82;transform:scaleX(1.1000);transform-origin:0 0;-webkit-text-stroke:0.2px #2b2b82">Lillian Mason</div>
<div class="a" id="t66" style="left:288.20px;top:553.75px;font-size:10px;color:#b9c0d2;transform:scaleX(1.0763);transform-origin:0 0">SMM manager</div>
<div class="a" id="t67" style="left:289.00px;top:590.74px;font-size:11px;color:#2b2b82;transform:scaleX(1.0439);transform-origin:0 0;-webkit-text-stroke:0.2px #2b2b82">Lewis Sims</div>
<div class="a" id="t68" style="left:288.20px;top:606.38px;font-size:10px;color:#b9c0d2;transform:scaleX(1.1421);transform-origin:0 0">Content manager</div>
<div class="a" id="t69" style="left:484.10px;top:546.28px;font-size:10px;color:#ffffff;transform:scaleX(1.0290);transform-origin:0 0">Giveaway post</div>
<div class="a" id="t70" style="left:572.28px;top:546.51px;font-size:8.5px;color:#ffffff;transform:scaleX(1.0680);transform-origin:0 0">3 hours</div>
<div class="a" id="t71" style="left:724.30px;top:546.28px;font-size:10px;color:#ffffff;transform:scaleX(1.1053);transform-origin:0 0">Social media strategy</div>
<div class="a" id="t72" style="left:909.36px;top:546.51px;font-size:8.5px;color:#ffffff;transform:scaleX(1.0717);transform-origin:0 0">5 hours</div>
<div class="a" id="t73" style="left:533.54px;top:599.47px;font-size:10px;color:#ffffff;transform:scaleX(1.1031);transform-origin:0 0">Content plan</div>
<div class="a" id="t74" style="left:765.00px;top:599.69px;font-size:8.5px;color:#ffffff;transform:scaleX(1.0717);transform-origin:0 0">6 hours</div>
</body></html>
